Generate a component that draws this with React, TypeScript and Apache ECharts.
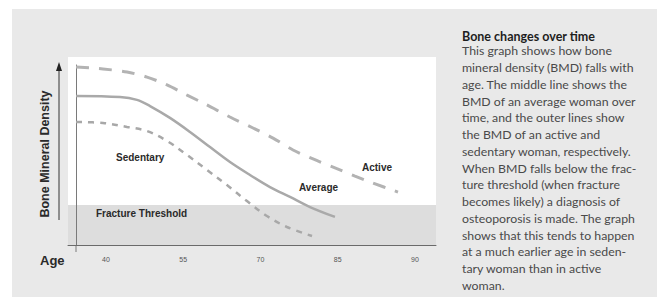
import React, { useEffect, useRef } from "react";
import * as echarts from "echarts";

// x positions are in "tick slots": 0 -> 40, 1 -> 55, 2 -> 70, 3 -> 85, 4 -> 90
const ageLabels = ["40", "55", "70", "85", "90"];
const tickSlots = [0, 1, 2, 3, 4];

const activeX = [-0.388, -0.039, 0.272, 0.531, 0.79, 1.049, 1.307, 1.605, 1.903, 2.162, 2.421, 2.68, 2.964, 3.223, 3.456, 3.78];
const activeY = [98.9, 97.8, 96.1, 93.3, 88.9, 83.3, 77.8, 71.1, 65.0, 59.4, 52.8, 47.8, 42.8, 38.3, 34.4, 29.4];

const averageX = [-0.388, 0.181, 0.401, 0.57, 0.828, 1.087, 1.346, 1.605, 1.864, 2.123, 2.382, 2.641, 2.964];
const averageY = [82.8, 82.2, 80.6, 77.2, 70.6, 62.8, 54.4, 46.1, 38.9, 32.2, 26.7, 21.1, 15.6];

const sedentaryX = [-0.388, -0.039, 0.272, 0.531, 0.79, 1.049, 1.307, 1.566, 1.825, 2.084, 2.343, 2.667];
const sedentaryY = [68.3, 67.8, 65.6, 63.3, 57.8, 50.0, 41.7, 33.3, 24.4, 16.1, 10.0, 5.0];

const fractureThreshold = 22.2;

const titleText = "Bone changes over time";
const bodyLines = [
  "This graph shows how bone",
  "mineral density (BMD) falls with",
  "age. The middle line shows the",
  "BMD of an average woman over",
  "time, and the outer lines show",
  "the BMD of an active and",
  "sedentary woman, respectively.",
  "When BMD falls below the frac-",
  "ture threshold (when fracture",
  "becomes likely) a diagnosis of",
  "osteoporosis is made. The graph",
  "shows that this tends to happen",
  "at a much earlier age in seden-",
  "tary woman than in active",
  "woman.",
];

const zip = (xs: number[], ys: number[]) => xs.map((x, i) => [x, ys[i]]);

export default function App() {
  const ref = useRef<HTMLDivElement>(null);
  useEffect(() => {
    if (!ref.current) return;
    const chart = echarts.init(ref.current, undefined, { renderer: "svg" });
    const labelFont = "Liberation Sans";
    const lbl = (text: string, x: number, y: number) => ({
      type: "text",
      x,
      y,
      style: {
        text,
        fill: "#2a2a2a",
        font: `bold 10px "${labelFont}"`,
        textVerticalAlign: "middle",
      },
      z: 10,
    });
    chart.setOption({
      animation: false,
      backgroundColor: "#ffffff",
      grid: { left: 68, right: 221, top: 65, bottom: 55, containLabel: false },
      xAxis: {
        type: "value",
        min: -0.492,
        max: 4.272,
        axisLine: { show: true, onZero: false, lineStyle: { color: "#6a6a6a", width: 1 } },
        axisTick: { show: false },
        splitLine: { show: false },
        axisLabel: {
          customValues: tickSlots,
          formatter: (v: number) => ageLabels[Math.round(v)] ?? "",
          color: "#555",
          fontSize: 7,
          fontFamily: "Liberation Sans",
          margin: 11,
        },
      },
      yAxis: {
        type: "value",
        min: 0,
        max: 100,
        offset: -8,
        axisLine: { show: true, onZero: false, lineStyle: { color: "#7a7a7a", width: 1 } },
        axisTick: { show: false },
        axisLabel: { show: false },
        splitLine: { show: false },
      },
      graphic: [
        { type: "rect", shape: { x: 0, y: 0, width: 657, height: 300 }, style: { fill: "#ffffff" }, z: -30 },
        { type: "rect", shape: { x: 12, y: 9, width: 645, height: 288 }, style: { fill: "#e9e9e9" }, z: -20 },
        { type: "rect", shape: { x: 68, y: 57, width: 368, height: 188 }, style: { fill: "#ffffff" }, z: -10 },
        { type: "line", shape: { x1: 76, y1: 245, x2: 76, y2: 252 }, style: { stroke: "#7a7a7a", lineWidth: 1 } },
        { type: "line", shape: { x1: 59, y1: 70, x2: 59, y2: 220 }, style: { stroke: "#333", lineWidth: 1 } },
        { type: "polygon", shape: { points: [[59, 62], [56, 71], [62, 71]] }, style: { fill: "#222" } },
        {
          type: "text",
          x: 45,
          y: 154,
          rotation: Math.PI / 2,
          style: {
            text: "Bone Mineral Density",
            fill: "#2a2a2a",
            font: `bold 12.5px "${labelFont}"`,
            textAlign: "center",
            textVerticalAlign: "middle",
          },
        },
        {
          type: "text",
          x: 40,
          y: 260,
          style: { text: "Age", fill: "#2a2a2a", font: `bold 13px "${labelFont}"`, textVerticalAlign: "middle" },
        },
        lbl("Sedentary", 116, 157),
        lbl("Active", 362, 167),
        lbl("Average", 299, 187),
        lbl("Fracture Threshold", 96, 213),
        {
          type: "text",
          x: 462,
          y: 36,
          style: { text: titleText, fill: "#1e1e1e", font: `bold 12.5px "Lato"`, textVerticalAlign: "middle" },
        },
        {
          type: "text",
          x: 462,
          y: 42.6,
          style: {
            text: bodyLines.join("\n"),
            fill: "#4a4a4a",
            font: `12.3px "Lato"`,
            lineHeight: 16.75,
          },
        },
      ],
      series: [
        {
          name: "Active",
          type: "line",
          data: zip(activeX, activeY),
          smooth: 0.3,
          symbol: "none",
          lineStyle: { color: "#b3b3b3", width: 3, type: [13, 10] },
        },
        {
          name: "Average",
          type: "line",
          data: zip(averageX, averageY),
          smooth: 0.35,
          symbol: "none",
          lineStyle: { color: "#a9a9a9", width: 2.5 },
          markArea: {
            silent: true,
            itemStyle: { color: "#dddddd" },
            data: [[{ xAxis: -0.492, yAxis: 0 }, { xAxis: 4.272, yAxis: fractureThreshold }]],
            z: -1,
          },
        },
        {
          name: "Sedentary",
          type: "line",
          data: zip(sedentaryX, sedentaryY),
          smooth: 0.35,
          symbol: "none",
          lineStyle: { color: "#a8a8a8", width: 2.5, type: [6, 6] },
        },
      ],
    });
    return () => chart.dispose();
  }, []);
  return <div ref={ref} style={{ width: 657, height: 300, position: "absolute", left: 0, top: 0 }} />;
}
